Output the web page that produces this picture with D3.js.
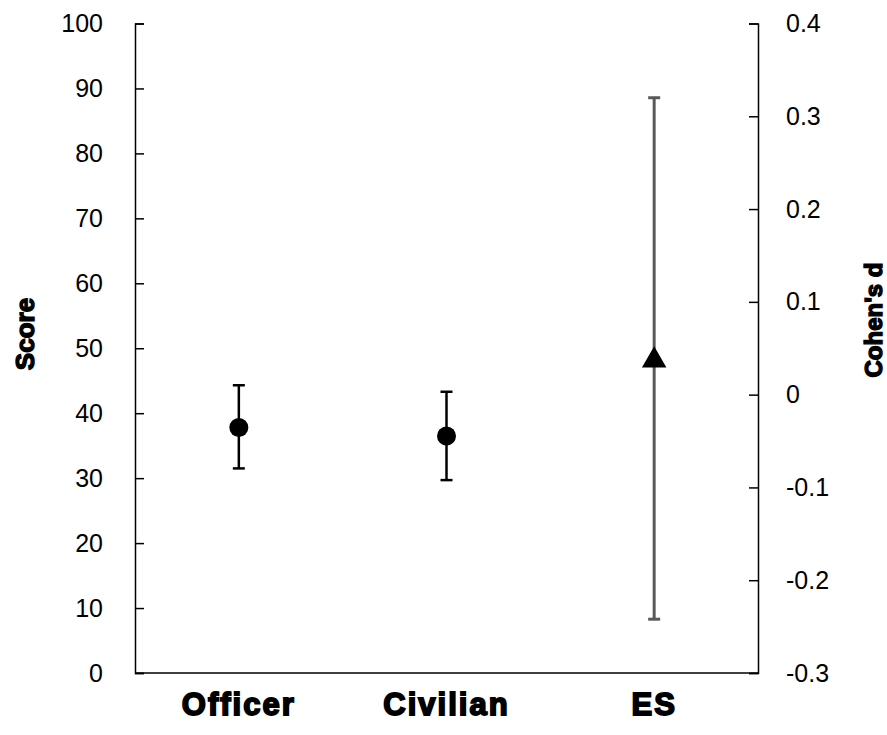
<!DOCTYPE html>
<html>
<head>
<meta charset="utf-8">
<script src="https://cdn.jsdelivr.net/npm/d3@7"></script>
<style>
  body { margin: 0; background: #fff; }
  svg text { font-family: "Liberation Sans", Arial, sans-serif; }
</style>
</head>
<body>
<svg id="chart"></svg>
<script>
// data
var categories = ["Officer", "Civilian", "ES"];
var scoreMeans = [37.8, 36.5];
var scoreLow = [31.5, 29.7];
var scoreHigh = [44.3, 43.3];
var esMean = 0.037;
var esLow = -0.242;
var esHigh = 0.320;
var leftTicks = [0, 10, 20, 30, 40, 50, 60, 70, 80, 90, 100];
var rightTicks = [-0.3, -0.2, -0.1, 0, 0.1, 0.2, 0.3, 0.4];

var width = 887, height = 735;
var margin = {top: 23.5, right: 129, bottom: 62, left: 135};

var svg = d3.select("#chart")
    .attr("width", width)
    .attr("height", height);

var x = d3.scaleBand()
    .domain(categories)
    .range([margin.left, width - margin.right]);
var y = d3.scaleLinear()
    .domain([0, 100])
    .range([height - margin.bottom, margin.top]);
var y2 = d3.scaleLinear()
    .domain([-0.3, 0.4])
    .range([height - margin.bottom, margin.top]);

// left axis, ticks pointing inward
var leftAxis = svg.append("g")
    .attr("transform", "translate(" + margin.left + ",0)")
    .call(d3.axisRight(y).tickValues(leftTicks).tickSize(9).tickFormat(d3.format("d")));
leftAxis.selectAll("text")
    .attr("x", -32)
    .attr("text-anchor", "end")
    .attr("font-size", 25)
    .attr("font-family", "Liberation Sans, Arial, sans-serif")
    .attr("fill", "#000");

// right axis, ticks pointing inward
var rightAxis = svg.append("g")
    .attr("transform", "translate(" + (width - margin.right) + ",0)")
    .call(d3.axisLeft(y2).tickValues(rightTicks).tickSize(9).tickFormat(function(d) {
        return Math.abs(d) < 1e-9 ? "0" : d.toFixed(1);
    }));
rightAxis.selectAll("text")
    .attr("x", 28)
    .attr("text-anchor", "start")
    .attr("font-size", 25)
    .attr("font-family", "Liberation Sans, Arial, sans-serif")
    .attr("fill", "#000");

[leftAxis, rightAxis].forEach(function(g) {
    g.select(".domain").attr("stroke", "#000").attr("stroke-width", 1.5);
    g.selectAll(".tick line").attr("stroke", "#000").attr("stroke-width", 1.5);
});

// bottom line
svg.append("line")
    .attr("x1", margin.left).attr("x2", width - margin.right)
    .attr("y1", y(0)).attr("y2", y(0))
    .attr("stroke", "#000").attr("stroke-width", 1.5);

// category labels
svg.append("g").selectAll("text")
    .data(categories)
    .enter().append("text")
    .attr("x", function(d) { return x(d) + x.bandwidth() / 2; })
    .attr("y", 715)
    .attr("text-anchor", "middle")
    .attr("font-size", 31)
    .attr("font-weight", "bold")
    .attr("stroke", "#000")
    .attr("stroke-width", 1.8)
    .attr("letter-spacing", 2)
    .text(function(d) { return d; });

// score error bars
var capW = 12;
var scoreData = scoreMeans.map(function(m, i) {
    return {cat: categories[i], mean: m, low: scoreLow[i], high: scoreHigh[i]};
});
var cx = function(d) { return x(d.cat) + x.bandwidth() / 2; };

var bars = svg.append("g").selectAll("g")
    .data(scoreData)
    .enter().append("g");
bars.append("line")
    .attr("x1", cx).attr("x2", cx)
    .attr("y1", function(d) { return y(d.low); })
    .attr("y2", function(d) { return y(d.high); })
    .attr("stroke", "#000").attr("stroke-width", 2.5);
bars.append("line")
    .attr("x1", function(d) { return cx(d) - capW / 2; })
    .attr("x2", function(d) { return cx(d) + capW / 2; })
    .attr("y1", function(d) { return y(d.high); })
    .attr("y2", function(d) { return y(d.high); })
    .attr("stroke", "#000").attr("stroke-width", 2.5);
bars.append("line")
    .attr("x1", function(d) { return cx(d) - capW / 2; })
    .attr("x2", function(d) { return cx(d) + capW / 2; })
    .attr("y1", function(d) { return y(d.low); })
    .attr("y2", function(d) { return y(d.low); })
    .attr("stroke", "#000").attr("stroke-width", 2.5);
bars.append("circle")
    .attr("cx", cx)
    .attr("cy", function(d) { return y(d.mean); })
    .attr("r", 9.5)
    .attr("fill", "#000");

// effect size on the right axis
var esX = x("ES") + x.bandwidth() / 2;
var es = svg.append("g");
es.append("line")
    .attr("x1", esX).attr("x2", esX)
    .attr("y1", y2(esLow)).attr("y2", y2(esHigh))
    .attr("stroke", "#595959").attr("stroke-width", 3);
es.append("line")
    .attr("x1", esX - capW / 2).attr("x2", esX + capW / 2)
    .attr("y1", y2(esHigh)).attr("y2", y2(esHigh))
    .attr("stroke", "#595959").attr("stroke-width", 3);
es.append("line")
    .attr("x1", esX - capW / 2).attr("x2", esX + capW / 2)
    .attr("y1", y2(esLow)).attr("y2", y2(esLow))
    .attr("stroke", "#595959").attr("stroke-width", 3);
es.append("path")
    .attr("d", d3.symbol().type(d3.symbolTriangle).size(260))
    .attr("transform", "translate(" + esX + "," + y2(esMean) + ")")
    .attr("fill", "#000");

// axis titles
svg.append("text")
    .attr("transform", "translate(34,334) rotate(-90)")
    .attr("text-anchor", "middle")
    .attr("font-size", 26)
    .attr("font-weight", "bold")
    .attr("stroke", "#000")
    .attr("stroke-width", 1.4)
    .text("Score");
svg.append("text")
    .attr("transform", "translate(882,320) rotate(-90)")
    .attr("text-anchor", "middle")
    .attr("font-size", 24)
    .attr("font-weight", "bold")
    .attr("stroke", "#000")
    .attr("stroke-width", 1.4)
    .text("Cohen's d");
</script>
</body>
</html>
